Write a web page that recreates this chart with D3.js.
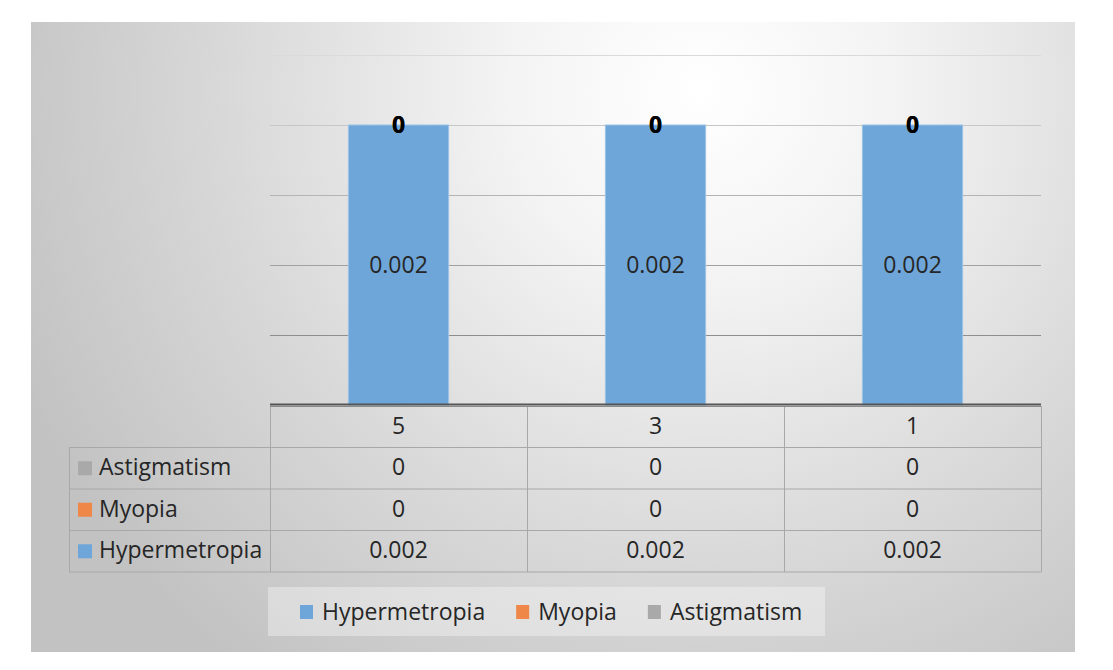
<!DOCTYPE html>
<html>
<head>
	<title>Refraction by group</title>
	<script src="https://d3js.org/d3.v7.min.js"></script>
	<style>
		body { margin: 0; background: #ffffff; }
		text { font-family: "Open Sans", sans-serif; font-size: 23px; fill: #262626; }
	</style>
</head>

<body>
<svg width="1113" height="670"></svg>

<script type="text/javascript">
// data
var categories = ["5", "3", "1"];
var seriesNames = ["Hypermetropia", "Myopia", "Astigmatism"];
var hypermetropia = [0.002, 0.002, 0.002];
var myopia = [0, 0, 0];
var astigmatism = [0, 0, 0];
var yTicks = [0, 0.0005, 0.001, 0.0015, 0.002, 0.0025];

var seriesColors = {"Hypermetropia": "#6fa6d9", "Myopia": "#ee8748", "Astigmatism": "#a9a9a9"};
var seriesValues = {"Hypermetropia": hypermetropia, "Myopia": myopia, "Astigmatism": astigmatism};

// chart frame
var frame = {x: 31, y: 22, w: 1044, h: 630};
var plot = {left: 270, right: 1041, top: 55, bottom: 405};
var rowH = 41.5;
var tableLeft = 69;

var svg = d3.select('svg');

var defs = svg.append('defs');
var grad = defs.append('radialGradient')
	.attr('id', 'bg')
	.attr('gradientUnits', 'userSpaceOnUse')
	.attr('cx', 700).attr('cy', 90).attr('r', 740);
grad.append('stop').attr('offset', 0).attr('stop-color', '#ffffff');
grad.append('stop').attr('offset', 0.25).attr('stop-color', '#f4f4f4');
grad.append('stop').attr('offset', 0.65).attr('stop-color', '#d8d8d8');
grad.append('stop').attr('offset', 1).attr('stop-color', '#c2c2c2');

svg.append('rect')
	.attr('x', frame.x).attr('y', frame.y)
	.attr('width', frame.w).attr('height', frame.h)
	.attr('fill', 'url(#bg)');

var rows = categories.map(function(c, i) {
	var r = {cat: c};
	seriesNames.forEach(function(s) { r[s] = seriesValues[s][i]; });
	return r;
});

var x = d3.scaleBand()
	.domain(categories)
	.range([plot.left, plot.right])
	.paddingInner(0.61)
	.paddingOuter(0.305);

var y = d3.scaleLinear()
	.domain([0, d3.max(yTicks)])
	.range([plot.bottom, plot.top]);

// gridlines (darker toward the bottom, as in the picture)
var gridShade = d3.scaleLinear().domain([0.0025, 0.0005]).range(['#dadada', '#8e8e8e']);
svg.append('g')
	.selectAll('line')
	.data(yTicks.filter(function(t) { return t > 0; }))
	.enter()
	.append('line')
	.attr('x1', plot.left).attr('x2', plot.right)
	.attr('y1', function(d) { return Math.round(y(d)) + 0.5; })
	.attr('y2', function(d) { return Math.round(y(d)) + 0.5; })
	.attr('stroke', function(d) { return gridShade(d); })
	.attr('stroke-width', 1.2);

var stack = d3.stack().keys(seriesNames);
var stacked = stack(rows);

var layers = svg.append('g')
	.selectAll('g')
	.data(stacked)
	.enter()
	.append('g')
	.attr('fill', function(d) { return seriesColors[d.key]; });

layers.selectAll('rect')
	.data(function(d) { return d; })
	.enter()
	.append('rect')
	.attr('x', function(d) { return x(d.data.cat); })
	.attr('width', x.bandwidth())
	.attr('y', function(d) { return y(d[1]); })
	.attr('height', function(d) { return y(d[0]) - y(d[1]); })
	.attr('stroke', '#9cc2e6')
	.attr('stroke-width', function(d) { return d[1] > d[0] ? 1 : 0; });

// segment labels
stacked.forEach(function(layer) {
	svg.append('g')
		.selectAll('text')
		.data(layer)
		.enter()
		.append('text')
		.attr('x', function(d) { return x(d.data.cat) + x.bandwidth() / 2; })
		.attr('y', function(d) { return y((d[0] + d[1]) / 2); })
		.attr('dy', '0.33em')
		.attr('text-anchor', 'middle')
		.style('font-weight', function(d) { return d[1] > d[0] ? 400 : 700; })
		.style('fill', function(d) { return d[1] > d[0] ? '#262626' : '#000000'; })
		.text(function(d) { return d.data[layer.key]; });
});

// data table below the axis
var step = x.step();
var tableRows = seriesNames.slice().reverse();
var tableTop = plot.bottom + 1;
var tableBottom = tableTop + rowH * (tableRows.length + 1);
var table = svg.append('g');
var lineColor = '#a8a8a8';

// horizontal rules
tableRows.forEach(function(s, i) {
	table.append('line')
		.attr('x1', tableLeft).attr('x2', plot.right)
		.attr('y1', tableTop + rowH * (i + 2)).attr('y2', tableTop + rowH * (i + 2))
		.attr('stroke', lineColor);
});
table.append('line')
	.attr('x1', tableLeft).attr('x2', plot.right)
	.attr('y1', tableTop + rowH).attr('y2', tableTop + rowH)
	.attr('stroke', lineColor);

// vertical rules
var colEdges = categories.map(function(c) { return x(c) + x.bandwidth() / 2 - step / 2; });
colEdges.push(plot.right);
colEdges.forEach(function(cx) {
	table.append('line')
		.attr('x1', cx + 0.5).attr('x2', cx + 0.5)
		.attr('y1', tableTop).attr('y2', tableBottom)
		.attr('stroke', lineColor);
});
table.append('line')
	.attr('x1', tableLeft + 0.5).attr('x2', tableLeft + 0.5)
	.attr('y1', tableTop + rowH).attr('y2', tableBottom)
	.attr('stroke', lineColor);

// category axis labels
table.selectAll('text.cat')
	.data(categories)
	.enter()
	.append('text')
	.attr('class', 'cat')
	.attr('x', function(d) { return x(d) + x.bandwidth() / 2; })
	.attr('y', tableTop + rowH / 2)
	.attr('dy', '0.3em')
	.attr('text-anchor', 'middle')
	.text(function(d) { return d; });

tableRows.forEach(function(s, i) {
	var cy = tableTop + rowH * (i + 1.5);
	table.append('rect')
		.attr('x', tableLeft + 9).attr('y', cy - 7)
		.attr('width', 14).attr('height', 14)
		.attr('fill', seriesColors[s]);
	table.append('text')
		.attr('x', tableLeft + 30).attr('y', cy)
		.attr('dy', '0.3em')
		.text(s);
	table.selectAll('text.v' + i)
		.data(seriesValues[s])
		.enter()
		.append('text')
		.attr('x', function(d, j) { return x(categories[j]) + x.bandwidth() / 2; })
		.attr('y', cy)
		.attr('dy', '0.3em')
		.attr('text-anchor', 'middle')
		.text(function(d) { return d; });
});

// category axis line (double rule)
svg.append('line')
	.attr('x1', plot.left).attr('x2', plot.right)
	.attr('y1', plot.bottom - 0.5).attr('y2', plot.bottom - 0.5)
	.attr('stroke', '#555555').attr('stroke-width', 2);
svg.append('line')
	.attr('x1', plot.left).attr('x2', plot.right)
	.attr('y1', plot.bottom + 1.5).attr('y2', plot.bottom + 1.5)
	.attr('stroke', '#8a8a8a').attr('stroke-width', 1);

// legend
var legend = svg.append('g');
legend.append('rect')
	.attr('x', 268).attr('y', 587)
	.attr('width', 557).attr('height', 49)
	.attr('fill', '#ffffff').attr('fill-opacity', 0.35);

var lx = 300;
seriesNames.forEach(function(s) {
	legend.append('rect')
		.attr('x', lx).attr('y', 605)
		.attr('width', 13).attr('height', 14)
		.attr('fill', seriesColors[s]);
	var t = legend.append('text')
		.attr('x', lx + 22).attr('y', 612)
		.attr('dy', '0.33em')
		.text(s);
	lx += 22 + t.node().getComputedTextLength() + 31;
});
</script>

</body>
</html>
